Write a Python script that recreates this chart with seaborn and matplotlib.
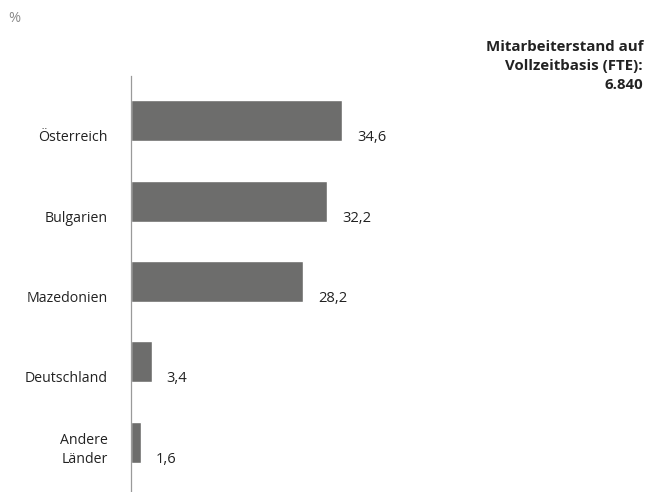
import matplotlib
matplotlib.use("Agg")
import matplotlib.pyplot as plt
import matplotlib.transforms as mtransforms
import seaborn as sns
import pandas as pd

countries = ["Österreich", "Bulgarien", "Mazedonien", "Deutschland", "Andere\nLänder"]
shares = [34.6, 32.2, 28.2, 3.4, 1.6]
value_labels = ["34,6", "32,2", "28,2", "3,4", "1,6"]
headline = "Mitarbeiterstand auf\nVollzeitbasis (FTE):\n6.840"
unit = "%"

sns.set_theme(style="white")
plt.rcParams["font.family"] = ["Open Sans", "DejaVu Sans"]

bar_color = "#6d6d6c"
text_color = "#222222"

df = pd.DataFrame({"land": countries, "anteil": shares})

fig = plt.figure(figsize=(6.45, 4.92), dpi=100)
ax = fig.add_axes([131 / 645, 0.0, 305 / 645, (492 - 76) / 492])

bar_h = 0.51
sns.barplot(data=df, x="anteil", y="land", orient="h", color=bar_color,
            width=bar_h, saturation=1, ax=ax)

ax.set_xlim(0, 50)
ax.set_ylim(4.62, -0.56)

for s in ["top", "right", "bottom"]:
    ax.spines[s].set_visible(False)
ax.spines["left"].set_color("#9a9a9a")
ax.spines["left"].set_linewidth(0.9)
ax.set_xticks([])
ax.set_yticks([])
ax.set_xlabel("")
ax.set_ylabel("")

# category names, right-aligned left of the axis line, sitting on the bar bottom
name_tr = mtransforms.offset_copy(ax.get_yaxis_transform(), fig=fig, x=-23, y=0, units="dots")
val_tr = mtransforms.offset_copy(ax.transData, fig=fig, x=15, y=0, units="dots")
for i, (name, v, lbl) in enumerate(zip(countries, shares, value_labels)):
    y = i + bar_h / 2
    ax.text(0, y, name, transform=name_tr, ha="right", va="baseline",
            fontsize=10.2, color=text_color, multialignment="right", linespacing=1.3)
    ax.text(v, y, lbl, transform=val_tr, ha="left", va="baseline",
            fontsize=10.6, color=text_color)

fig.text(8 / 645, 1 - 19 / 492, unit, ha="left", va="center", fontsize=10.5, color="#8a8a8a")
fig.text(643 / 645, 1 - 40 / 492, headline, ha="right", va="top", fontsize=10.8,
         fontweight="bold", color=text_color, linespacing=1.45)

fig.savefig("out.png", dpi=100)
